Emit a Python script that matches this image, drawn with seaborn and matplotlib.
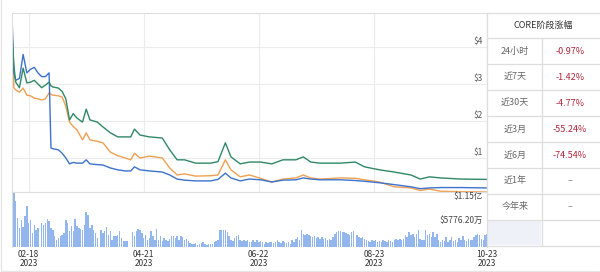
import numpy as np
import pandas as pd
import matplotlib
matplotlib.use("Agg")
import matplotlib.pyplot as plt
import matplotlib.dates as mdates
from matplotlib.patches import Rectangle
import seaborn as sns

# ---------------- data ----------------
year = "2023"
line_dates = ["02-09", "02-10", "02-11", "02-13", "02-15", "02-17", "02-19", "02-21", "02-23", "02-25",
              "02-27", "03-01", "03-02", "03-03", "03-06", "03-08", "03-10", "03-12", "03-14", "03-16",
              "03-19", "03-21", "03-23", "03-27", "03-30", "04-03", "04-07", "04-11", "04-14", "04-16",
              "04-19", "04-24", "05-01", "05-05", "05-09", "05-13", "05-19", "05-27", "05-31", "06-04",
              "06-07", "06-12", "06-17", "06-23", "06-29", "07-05", "07-12", "07-16", "07-20", "07-25",
              "08-05", "08-13", "08-18", "08-26", "09-03", "09-12", "09-17", "09-22", "09-28", "10-09",
              "10-23"]
blue_vals = [4.86, 3.3, 3.1, 3.15, 3.8, 3.3, 3.4, 3.45, 3.3, 3.2,
             3.2, 3.3, 1.27, 1.25, 1.22, 1.13, 1.0, 0.84, 0.88, 0.86,
             0.86, 0.95, 0.84, 0.82, 0.81, 0.73, 0.68, 0.65, 0.65, 0.76,
             0.68, 0.65, 0.62, 0.54, 0.43, 0.40, 0.38, 0.38, 0.42, 0.59,
             0.46, 0.38, 0.43, 0.41, 0.35, 0.40, 0.41, 0.46, 0.43, 0.41,
             0.41, 0.39, 0.37, 0.33, 0.28, 0.22, 0.17, 0.19, 0.20, 0.20,
             0.19]
green_vals = [4.4, 3.5, 3.05, 2.9, 3.43, 3.03, 3.05, 3.1, 3.0, 2.9,
              2.97, 3.05, 2.95, 2.92, 2.89, 2.8, 2.6, 2.03, 2.2, 2.08,
              1.97, 2.32, 2.03, 1.97, 1.84, 1.68, 1.57, 1.57, 1.57, 1.78,
              1.62, 1.57, 1.54, 1.22, 0.95, 0.95, 0.86, 0.86, 0.90, 1.41,
              1.03, 0.84, 0.89, 0.89, 0.84, 0.95, 0.95, 1.03, 0.89, 0.86,
              0.86, 0.89, 0.76, 0.68, 0.62, 0.54, 0.43, 0.49, 0.46, 0.43,
              0.42]
orange_vals = [4.4, 2.9, 2.84, 2.78, 2.89, 2.7, 2.68, 2.62, 2.6, 2.57,
               2.6, 2.76, 2.72, 2.7, 2.68, 2.65, 2.4, 1.97, 1.85, 1.76,
               1.49, 1.68, 1.49, 1.45, 1.41, 1.16, 1.06, 1.0, 0.95, 1.13,
               1.0, 1.05, 1.0, 0.73, 0.54, 0.57, 0.51, 0.52, 0.54, 0.95,
               0.68, 0.49, 0.54, 0.45, 0.35, 0.43, 0.46, 0.54, 0.46, 0.43,
               0.46, 0.45, 0.41, 0.35, 0.22, 0.19, 0.12, 0.16, 0.10, 0.09,
               0.08]

vol_start = "2023-02-09"
# daily volume, million USD (0 = no data)
volume_musd = [39, 135, 113, 71, 47, 66, 49, 76, 101, 59, 66, 34, 54, 42, 47,
               0,
               59, 54, 59, 69, 64, 47, 42, 27, 17, 22, 27, 30, 34, 66, 59, 39, 52, 39, 69, 52,
               47, 44, 42, 54, 86, 79, 47, 54, 42, 34, 22,
               0,
               42, 34, 39, 49, 30, 39, 17, 27, 27, 30, 39, 22, 15, 15, 15,
               0, 0,
               37, 27, 39, 44, 42, 34, 22, 30, 17, 22, 39, 27, 17, 44, 17, 27, 15, 22, 17, 15,
               20, 27, 27, 22, 27, 17, 27, 25, 17, 20, 15, 10, 7, 7, 10, 5, 7, 10, 12, 7,
               5, 7, 7, 7, 12, 15, 17,
               42, 42, 42, 42, 37, 27, 17, 15, 22, 27, 30, 17, 15, 17, 15, 17,
               12, 12, 17, 12, 17, 12, 15, 12, 7, 12, 10, 12, 12, 10, 12, 17, 12, 10, 15, 12,
               10, 12, 7, 17, 12, 20, 25, 17, 42, 32, 30, 32, 30, 27, 25, 27, 22, 25, 20, 25,
               20, 22, 17, 20, 17, 25, 32, 37, 39, 39, 37, 37, 34, 32, 30, 37, 39,
               0,
               30, 25, 22, 25, 20, 17, 15, 12, 17, 15, 17, 12, 15, 12, 17, 15, 12,
               17, 15, 12, 17, 20, 17, 20, 17, 20, 30, 25, 37, 30, 32, 25, 32, 42,
               20, 17, 17, 42, 30, 32, 25, 37, 25, 32, 17, 12, 17, 15, 25, 12, 17, 25, 15, 17,
               12, 22, 17, 27, 17, 15, 20, 17, 17, 25, 30, 32, 30, 20, 17, 30, 32]

price_ticks = [1, 2, 3, 4]
price_tick_labels = ["$1", "$2", "$3", "$4"]
vol_ticks = [115.5, 57.762]
vol_tick_labels = ["$1.15亿", "$5776.20万"]
x_tick_dates = ["2023-02-18", "2023-04-21", "2023-06-22", "2023-08-23", "2023-10-23"]
x_tick_labels = ["02-18\n2023", "04-21\n2023", "06-22\n2023", "08-23\n2023", "10-23\n2023"]

table_title = "CORE阶段涨幅"
table_periods = ["24小时", "近7天", "近30天", "近3月", "近6月", "近1年", "今年来"]
table_changes = ["-0.97%", "-1.42%", "-4.77%", "-55.24%", "-74.54%", "–", "–"]

# ---------------- style ----------------
sns.set_theme(style="white")
plt.rcParams["font.family"] = ["Noto Sans CJK SC", "DejaVu Sans"]

C_BLUE = "#3d72cc"
C_GREEN = "#2f8866"
C_ORANGE = "#f0a052"
C_BAR = "#93b6ec"
C_GRID = "#ececec"
C_FRAME = "#dedede"

W, H = 600, 272
fig = plt.figure(figsize=(W / 100, H / 100), dpi=100)
fig.patch.set_facecolor("white")


def rect(x0, y0, x1, y1):
    return [x0 / W, 1 - y1 / H, (x1 - x0) / W, (y1 - y0) / H]


ax_p = fig.add_axes(rect(12, 13, 487, 192))
ax_v = fig.add_axes(rect(12, 192, 487, 247))

# ---------------- price lines ----------------
ldates = pd.to_datetime([f"{year}-{d}" for d in line_dates])
lx = mdates.date2num(ldates)
ldf = pd.concat([
    pd.DataFrame({"x": lx, "v": orange_vals, "s": "orange"}),
    pd.DataFrame({"x": lx, "v": blue_vals, "s": "blue"}),
    pd.DataFrame({"x": lx, "v": green_vals, "s": "green"}),
])
sns.lineplot(data=ldf, x="x", y="v", hue="s", hue_order=["orange", "blue", "green"],
             palette={"orange": C_ORANGE, "blue": C_BLUE, "green": C_GREEN},
             linewidth=1.0, legend=False, ax=ax_p)

x0 = mdates.date2num(pd.Timestamp(vol_start))
x1 = mdates.date2num(pd.Timestamp("2023-10-23"))
ax_p.set_xlim(x0, x1)
ax_p.set_ylim(0.08, 4.92)
ax_p.set_yticks(price_ticks)
xt = mdates.date2num(pd.to_datetime(x_tick_dates))
ax_p.set_xticks(xt)
ax_p.grid(True, color=C_GRID, linewidth=0.8)
ax_p.tick_params(labelleft=False, labelbottom=False, length=0)
ax_p.set_xlabel("")
ax_p.set_ylabel("")
for sp in ax_p.spines.values():
    sp.set_color(C_FRAME)
    sp.set_linewidth(0.8)
for v, lab in zip(price_ticks, price_tick_labels):
    ax_p.annotate(lab, xy=(1, v), xycoords=ax_p.get_yaxis_transform(),
                  xytext=(-3, 1), textcoords="offset points",
                  ha="right", va="bottom", fontsize=6, color="#555555")

# ---------------- volume bars ----------------
vdates = pd.date_range(vol_start, periods=len(volume_musd), freq="D")
vdf = pd.DataFrame({"x": mdates.date2num(vdates), "v": volume_musd})
sns.barplot(data=vdf, x="x", y="v", native_scale=True, color=C_BAR, saturation=1,
            width=0.78, linewidth=0, errorbar=None, ax=ax_v)
ax_v.set_xlim(x0, x1)
ax_v.set_ylim(0, 134)
ax_v.set_yticks([])
ax_v.set_xticks(xt)
ax_v.set_xticklabels(x_tick_labels, fontsize=6, color="#333333", linespacing=1.0)
ax_v.tick_params(axis="x", length=0, pad=2)
ax_v.set_xlabel("")
ax_v.set_ylabel("")
ax_v.grid(False)
for sp in ax_v.spines.values():
    sp.set_color(C_FRAME)
    sp.set_linewidth(0.8)
ax_v.spines["bottom"].set_visible(False)
for v, lab in zip(vol_ticks, vol_tick_labels):
    ax_v.annotate(lab, xy=(1, v), xycoords=ax_v.get_yaxis_transform(),
                  xytext=(-3, -1), textcoords="offset points",
                  ha="right", va="bottom", fontsize=6, color="#444444")

# ---------------- side table ----------------
ax_t = fig.add_axes([0, 0, 1, 1], zorder=5)
ax_t.set_xlim(0, W)
ax_t.set_ylim(H, 0)
ax_t.axis("off")
ax_t.patch.set_alpha(0)

# outer screenshot border
ax_t.plot([1, 1], [0, 271], color="#e6e6e6", lw=1)
ax_t.plot([1, 599], [270.5, 270.5], color="#e6e6e6", lw=1)

tx0, tx1, tmid = 487, 600, 542
ytop, yhead = 13, 38
row_h = 26
n_rows = len(table_periods) + 1
ybot = yhead + row_h * n_rows
ax_t.add_patch(Rectangle((tx0, ytop), tx1 - tx0, ybot - ytop, facecolor="white",
                         edgecolor="none", zorder=1))
# last (button) row background
ax_t.add_patch(Rectangle((tx0 + 1, yhead + row_h * len(table_periods) + 1), tmid - tx0 - 2, row_h - 2,
                         facecolor="#eef2f8", edgecolor="none", zorder=1))
ax_t.plot([tx0, tx1], [ytop, ytop], color=C_FRAME, lw=0.9, zorder=2)
ax_t.plot([tx0, tx0], [ytop, ybot], color=C_FRAME, lw=0.9, zorder=2)
for i in range(n_rows + 1):
    yy = yhead + i * row_h
    ax_t.plot([tx0, tx1], [yy, yy], color=C_FRAME, lw=0.9, zorder=2)
ax_t.plot([tmid, tmid], [yhead, ybot], color=C_FRAME, lw=0.9, zorder=2)

ax_t.text((tx0 + tx1) / 2, (ytop + yhead) / 2, table_title, ha="center", va="center",
          fontsize=6.5, color="#333333", zorder=3)
for i, (p, c) in enumerate(zip(table_periods, table_changes)):
    yc = yhead + row_h * i + row_h / 2
    ax_t.text(515, yc, p, ha="center", va="center", fontsize=6.5, color="#666666", zorder=3)
    col = "#b0263a" if c.startswith("-") else "#888888"
    ax_t.text(570, yc, c, ha="center", va="center", fontsize=6.5, color=col, zorder=3)

fig.savefig("out.png", dpi=100, facecolor="white")
